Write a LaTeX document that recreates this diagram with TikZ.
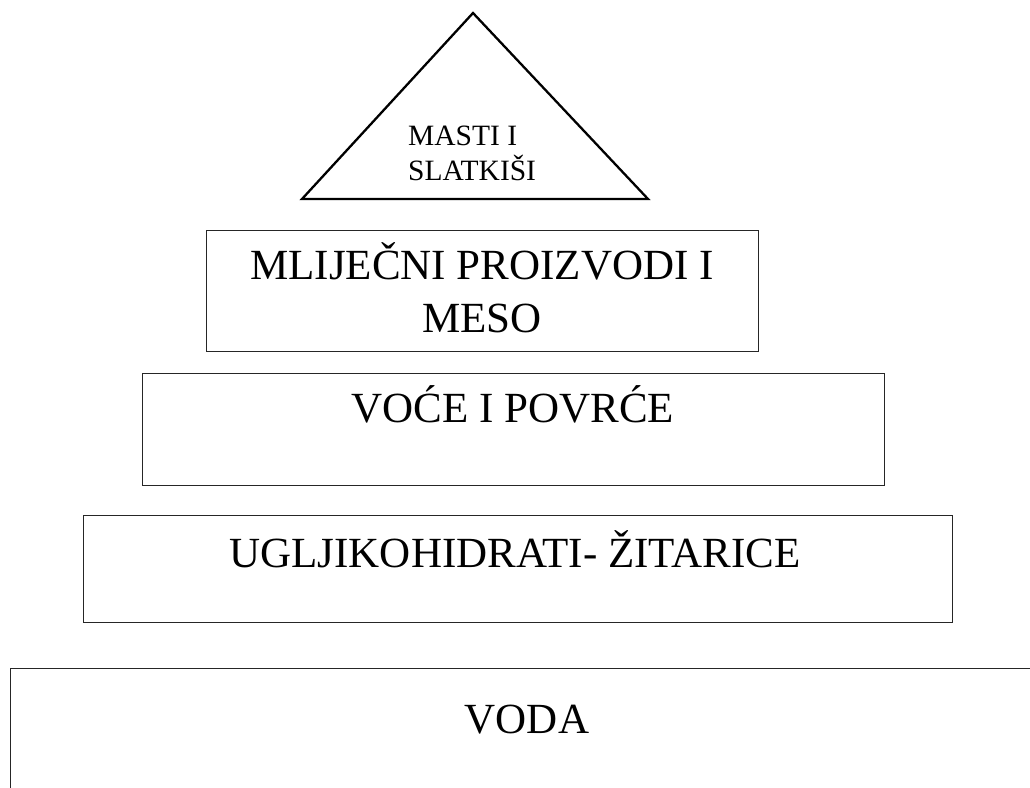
\documentclass[tikz,border=0pt]{standalone}
\usepackage{fontspec}
\setmainfont{Liberation Serif}
\begin{document}
\begin{tikzpicture}[x=1pt,y=-1pt,
  tier/.style={draw=black!85, line width=1.3pt, fill=none, inner sep=0pt, anchor=north west},
  bigtext/.style={font=\fontsize{43}{50}\selectfont, inner sep=0pt, anchor=base},
  smalltext/.style={font=\fontsize{29.5}{35}\selectfont, inner sep=0pt, anchor=base west}]
\useasboundingbox (0,0) rectangle (1030,787);
\fill[white] (0,0) rectangle (1030,787);
% triangle
\coordinate (apex) at (473,13);
\coordinate (bl) at (302,199);
\coordinate (br) at (648,199);
\draw[line width=2.3pt, line join=miter] (apex) -- (br) -- (bl) -- cycle;
\node[smalltext] (t1) at (408,145) {MASTI I};
\node[smalltext] (t2) at (408,180) {SLATKIŠI};
% tiers
\node[tier, minimum width=552pt, minimum height=121pt] (b1) at (206,230) {};
\node[bigtext] (m1) at (482,279) {MLIJEČNI PROIZVODI I};
\node[bigtext] (m2) at (482,332) {MESO};
\node[tier, minimum width=742pt, minimum height=112pt] (b2) at (142,373) {};
\node[bigtext] (v1) at (513,422) {VOĆE I POVRĆE};
\node[tier, minimum width=869pt, minimum height=107pt] (b3) at (83,515) {};
\node[bigtext] (u1) at (515,567) {UGLJIKOHIDRATI- ŽITARICE};
\node[tier, minimum width=1040pt, minimum height=140pt] (b4) at (10,668) {};
\node[bigtext] (w1) at (527,733) {VODA};
\end{tikzpicture}
\end{document}
